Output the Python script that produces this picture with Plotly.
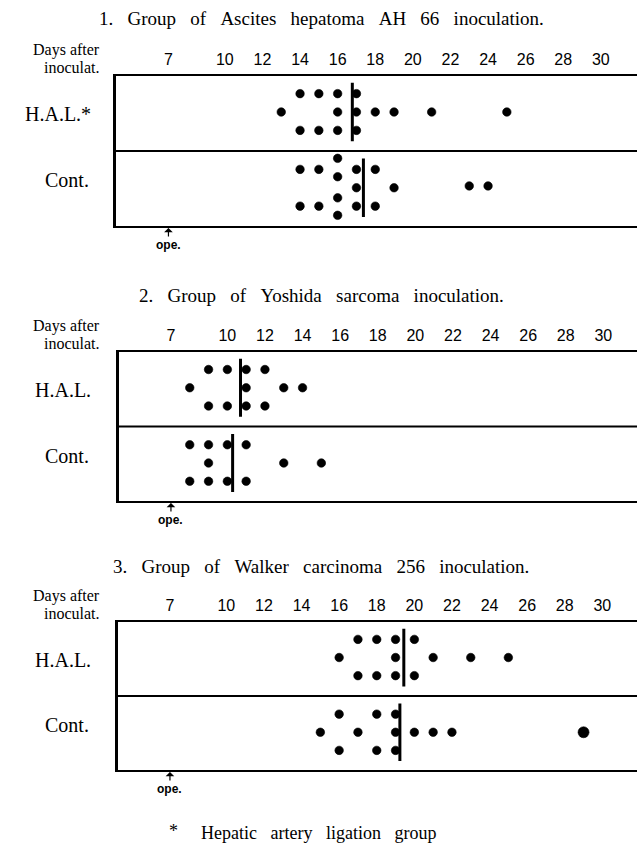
import plotly.graph_objects as go

W, H = 637, 849
NB = "\u00a0"

# ---------------- data ----------------
panel_titles = [
    "1. Group of Ascites hepatoma AH 66 inoculation.",
    "2. Group of Yoshida sarcoma inoculation.",
    "3. Group of Walker carcinoma 256 inoculation.",
]
hal_labels = ["H.A.L.*", "H.A.L.", "H.A.L."]
cont_label = "Cont."
tick_vals = [7, 10, 12, 14, 16, 18, 20, 22, 24, 26, 28, 30]
tick_text = ["7", "10", "12", "14", "16", "18", "20", "22", "24", "26", "28", "30"]
ope_day = 7

# survival days (day of death after inoculation) and stacking level of each dot
hal1_days = [13, 14, 14, 15, 15, 16, 16, 16, 17, 17, 17, 18, 19, 21, 25]
hal1_lvl = [0, 1, -1, 1, -1, 1, 0, -1, 1, 0, -1, 0, 0, 0, 0]
cont1_days = [14, 14, 15, 15, 16, 16, 16, 16, 17, 17, 17, 18, 18, 19, 23, 24]
cont1_lvl = [1, -1, 1, -1, 1.6, 0.6, -0.55, -1.5, 1, 0, -1, 1, -1, 0, 0.1, 0.1]

hal2_days = [8, 9, 9, 10, 10, 11, 11, 11, 12, 12, 13, 14]
hal2_lvl = [0, 1, -1, 1, -1, 1, 0, -1, 1, -1, 0, 0]
cont2_days = [8, 8, 9, 9, 9, 10, 10, 11, 11, 13, 15]
cont2_lvl = [1, -1, 1, 0, -1, 1, -1, 1, -1, 0, 0]

hal3_days = [16, 17, 17, 18, 18, 19, 19, 19, 20, 20, 21, 23, 25]
hal3_lvl = [0, 1, -1, 1, -1, 1, 0, -1, 1, -1, 0, 0, 0]
cont3_days = [15, 16, 16, 17, 18, 18, 19, 19, 19, 20, 21, 22, 29]
cont3_lvl = [0, 1, -1, 0, 1, -1, 1, 0, -1, 0, 0, 0, 0]

hal_means = [16.78, 10.70, 19.44]
cont_means = [17.37, 10.28, 19.23]

footnote_mark = "*"
footnote_text = "Hepatic artery ligation group"

# ---------------- layout geometry (pixels) ----------------
box_top = [76, 352, 622]
box_bot = [226, 501, 770]
box_left = [116, 118.5, 117.5]
title_y = [18, 295, 566]
PX_PER_DAY = 18.8
DAY_LEFT = 4.21
STEP = 0.245
HAL_MID, CONT_MID = 1.52, 0.51
HALF = 0.39

SERIF = "Liberation Serif"
SANS = "Liberation Sans"


def spaced(s):
    return s.replace(" ", " " + NB + NB)


def px(xp):
    return xp / W


def py(yp):
    return 1 - yp / H


hal_days = [hal1_days, hal2_days, hal3_days]
hal_lvls = [hal1_lvl, hal2_lvl, hal3_lvl]
cont_days = [cont1_days, cont2_days, cont3_days]
cont_lvls = [cont1_lvl, cont2_lvl, cont3_lvl]

fig = go.Figure()
layout = dict(
    width=W, height=H, margin=dict(l=0, r=0, t=0, b=0),
    paper_bgcolor="white", plot_bgcolor="white", showlegend=False,
)
shapes, annotations = [], []

for i in range(3):
    n = "" if i == 0 else str(i + 1)
    xa, ya = "x" + n, "y" + n
    left = box_left[i]
    layout["xaxis" + n] = dict(
        domain=[px(left), 1], range=[DAY_LEFT, DAY_LEFT + (W - left) / PX_PER_DAY],
        side="top", anchor=ya, showline=True, mirror=True, linewidth=2, linecolor="black",
        tickmode="array", tickvals=tick_vals, ticktext=tick_text, ticks="",
        ticklabelstandoff=3,
        tickfont=dict(family=SANS, size=16, color="black"),
        showgrid=False, zeroline=False, fixedrange=True,
    )
    layout["yaxis" + n] = dict(
        domain=[py(box_bot[i]), py(box_top[i])], range=[0, 2], anchor=xa,
        showline=True, linewidth=3, linecolor="black", showticklabels=False,
        ticks="", showgrid=False, zeroline=False, fixedrange=True,
    )
    # divider between rows
    shapes.append(dict(type="line", xref=xa + " domain", x0=0, x1=1, yref=ya, y0=1, y1=1,
                       line=dict(color="black", width=2)))

    # dots
    for days, lvls, mid in ((hal_days[i], hal_lvls[i], HAL_MID), (cont_days[i], cont_lvls[i], CONT_MID)):
        fig.add_trace(go.Scatter(
            x=days, y=[mid + l * STEP for l in lvls], xaxis=xa, yaxis=ya, mode="markers",
            opacity=1,
            marker=dict(color="#000000", opacity=1,
                        size=[11 if d == 29 else 8.5 for d in days],
                        line=dict(width=0.6, color="#000000")),
            hoverinfo="x",
        ))
    # mean lines
    for m, mid in ((hal_means[i], HAL_MID), (cont_means[i], CONT_MID)):
        fig.add_trace(go.Scatter(
            x=[m, m], y=[mid - HALF, mid + HALF], xaxis=xa, yaxis=ya, mode="lines",
            line=dict(color="black", width=3), hoverinfo="skip",
        ))

    top, bot = box_top[i], box_bot[i]
    midp = (top + bot) / 2
    annotations += [
        dict(text=spaced(panel_titles[i]), x=px(321), y=py(title_y[i]), xref="paper", yref="paper",
             xanchor="center", yanchor="middle", showarrow=False,
             font=dict(family=SERIF, size=19, color="black")),
        dict(text="Days after", x=px(102), y=py(top - 26), xref="paper", yref="paper",
             xanchor="right", yanchor="middle", showarrow=False,
             font=dict(family=SERIF, size=16, color="black")),
        dict(text="inoculat.", x=px(102), y=py(top - 9), xref="paper", yref="paper",
             xanchor="right", yanchor="middle", showarrow=False,
             font=dict(family=SERIF, size=16, color="black")),
        dict(text=hal_labels[i], x=px(93), y=py((top + midp) / 2 + 1), xref="paper", yref="paper",
             xanchor="right", yanchor="middle", showarrow=False,
             font=dict(family=SERIF, size=20, color="black")),
        dict(text=cont_label, x=px(91), y=py((midp + bot) / 2 - 8), xref="paper", yref="paper",
             xanchor="right", yanchor="middle", showarrow=False,
             font=dict(family=SERIF, size=20, color="black")),
        dict(text="<b>ope.</b>", x=ope_day, xref=xa, y=py(bot + 2), yref="paper",
             showarrow=True, ax=0, ay=17, arrowhead=1, arrowsize=1.2, arrowwidth=1.2,
             arrowcolor="black", standoff=0,
             font=dict(family=SANS, size=12, color="black")),
    ]

annotations += [
    dict(text=footnote_mark, x=px(173), y=py(831), xref="paper", yref="paper",
         xanchor="center", yanchor="middle", showarrow=False,
         font=dict(family=SERIF, size=18, color="black")),
    dict(text=spaced(footnote_text), x=px(199), y=py(833), xref="paper", yref="paper",
         xanchor="left", yanchor="middle", showarrow=False,
         font=dict(family=SERIF, size=18, color="black")),
]

layout["shapes"] = shapes
layout["annotations"] = annotations
fig.update_layout(**layout)
fig.write_html(
    "out.html",
    config={"displayModeBar": False},
    post_script="document.body.style.margin='0';document.body.style.overflow='hidden';",
)
